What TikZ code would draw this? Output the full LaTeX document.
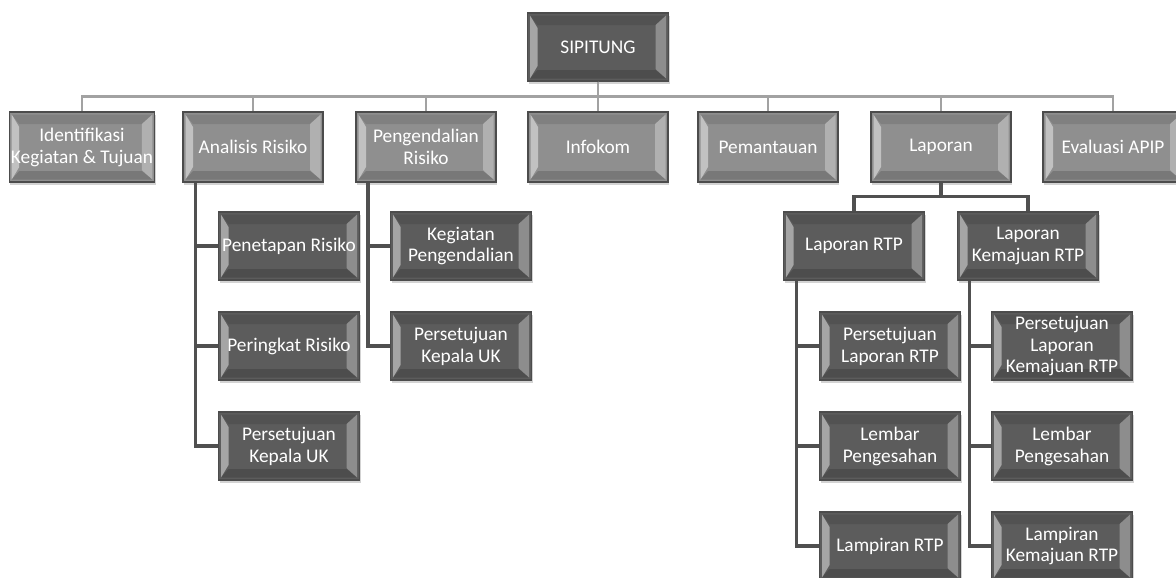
\documentclass[tikz,border=0pt]{standalone}
\usepackage{fontspec}
\setmainfont{Carlito}
\usepackage{tikz}
\usetikzlibrary{positioning,shadows}
\definecolor{boxlight}{HTML}{8F8F8F}
\definecolor{boxdark}{HTML}{5C5C5C}
\definecolor{busgray}{HTML}{A2A2A2}
\definecolor{stemgray}{HTML}{505050}

\begin{document}
\begin{tikzpicture}[
    box/.style={rectangle, draw=black!70, line width=0.6pt, text=white,
      minimum width=2.8cm, minimum height=1.36cm, inner sep=1pt, align=center,
      font=\fontsize{11}{12.5}\selectfont,
      drop shadow={shadow xshift=0.02cm, shadow yshift=-0.05cm, opacity=0.35},
      path picture={
        % light bevel on the left and right, darker rims top and bottom
        \fill[white, opacity=0.45]
          ([shift={(0.05,0.05)}]path picture bounding box.south west) --
          ([shift={(0.05,-0.05)}]path picture bounding box.north west) --
          ([shift={(0.2,-0.3)}]path picture bounding box.north west) --
          ([shift={(0.2,0.3)}]path picture bounding box.south west) -- cycle;
        \fill[white, opacity=0.3]
          ([shift={(-0.05,0.05)}]path picture bounding box.south east) --
          ([shift={(-0.05,-0.05)}]path picture bounding box.north east) --
          ([shift={(-0.26,-0.24)}]path picture bounding box.north east) --
          ([shift={(-0.26,0.24)}]path picture bounding box.south east) -- cycle;
        \fill[black, opacity=0.1]
          ([shift={(0.05,-0.05)}]path picture bounding box.north west) --
          ([shift={(-0.05,-0.05)}]path picture bounding box.north east) --
          ([shift={(-0.26,-0.24)}]path picture bounding box.north east) --
          ([shift={(0.2,-0.24)}]path picture bounding box.north west) -- cycle;
        \fill[black, opacity=0.16]
          ([shift={(0.05,0.05)}]path picture bounding box.south west) --
          ([shift={(-0.05,0.05)}]path picture bounding box.south east) --
          ([shift={(-0.26,0.22)}]path picture bounding box.south east) --
          ([shift={(0.2,0.22)}]path picture bounding box.south west) -- cycle;
      }},
    topbox/.style={box, fill=boxlight, minimum height=1.4cm},
    subbox/.style={box, fill=boxdark, minimum width=2.82cm},
    bus/.style={draw=busgray, line width=1.6pt},
    stem/.style={draw=stemgray, line width=1.8pt}]

      \useasboundingbox (0,0) rectangle (23.52,-11.54);

      \begin{scope}[every node/.style={subbox}]
          \node (sip) at (11.96,-0.94) {SIPITUNG};
      \end{scope}

      \begin{scope}[every node/.style={topbox}]
          \node (idk) at (1.64,-2.94) {Identifikasi\\Kegiatan \& Tujuan};
          \node (ana) at (5.06,-2.94) {Analisis Risiko};
          \node (pgd) at (8.52,-2.94) {Pengendalian\\Risiko};
          \node (inf) at (11.96,-2.94) {Infokom};
          \node (pem) at (15.36,-2.94) {Pemantauan};
          \node (lap) at (18.82,-2.94) {Laporan};
          \node (eva) at (22.26,-2.94) {Evaluasi APIP};
      \end{scope}

      \begin{scope}[every node/.style={subbox}]
          \node (ana1) at (5.78,-4.92) {Penetapan Risiko};
          \node (ana2) at (5.78,-6.92) {Peringkat Risiko};
          \node (ana3) at (5.78,-8.92) {Persetujuan\\Kepala UK};
          \node (pgd1) at (9.22,-4.92) {Kegiatan\\Pengendalian};
          \node (pgd2) at (9.22,-6.92) {Persetujuan\\Kepala UK};
          \node (rtp) at (17.08,-4.92) {Laporan RTP};
          \node (kem) at (20.56,-4.92) {Laporan\\Kemajuan RTP};
          \node (rtp1) at (17.80,-6.92) {Persetujuan\\Laporan RTP};
          \node (rtp2) at (17.80,-8.92) {Lembar\\Pengesahan};
          \node (rtp3) at (17.80,-10.92) {Lampiran RTP};
          \node (kem1) at (21.24,-6.92) {Persetujuan\\Laporan\\Kemajuan RTP};
          \node (kem2) at (21.24,-8.92) {Lembar\\Pengesahan};
          \node (kem3) at (21.24,-10.92) {Lampiran\\Kemajuan RTP};
      \end{scope}

      % top level bus
      \draw[bus] (sip.south) -- ++(0,-0.30) -| (idk.north);
      \draw[bus] (sip.south) -- ++(0,-0.30) -| (ana.north);
      \draw[bus] (sip.south) -- ++(0,-0.30) -| (pgd.north);
      \draw[bus] (sip.south) -- (inf.north);
      \draw[bus] (sip.south) -- ++(0,-0.30) -| (pem.north);
      \draw[bus] (sip.south) -- ++(0,-0.30) -| (lap.north);
      \draw[bus] (sip.south) -- ++(0,-0.30) -| (eva.north);

      % hanging branches
      \draw[stem] ([xshift=0.26cm]ana.south west) |- (ana1.west);
      \draw[stem] ([xshift=0.26cm]ana.south west) |- (ana2.west);
      \draw[stem] ([xshift=0.26cm]ana.south west) |- (ana3.west);
      \draw[stem] ([xshift=0.25cm]pgd.south west) |- (pgd1.west);
      \draw[stem] ([xshift=0.25cm]pgd.south west) |- (pgd2.west);

      \draw[stem] (lap.south) -- ++(0,-0.28) -| (rtp.north);
      \draw[stem] (lap.south) -- ++(0,-0.28) -| (kem.north);
      \draw[stem] ([xshift=0.27cm]rtp.south west) |- (rtp1.west);
      \draw[stem] ([xshift=0.27cm]rtp.south west) |- (rtp2.west);
      \draw[stem] ([xshift=0.27cm]rtp.south west) |- (rtp3.west);
      \draw[stem] ([xshift=0.25cm]kem.south west) |- (kem1.west);
      \draw[stem] ([xshift=0.25cm]kem.south west) |- (kem2.west);
      \draw[stem] ([xshift=0.25cm]kem.south west) |- (kem3.west);
\end{tikzpicture}
\end{document}
